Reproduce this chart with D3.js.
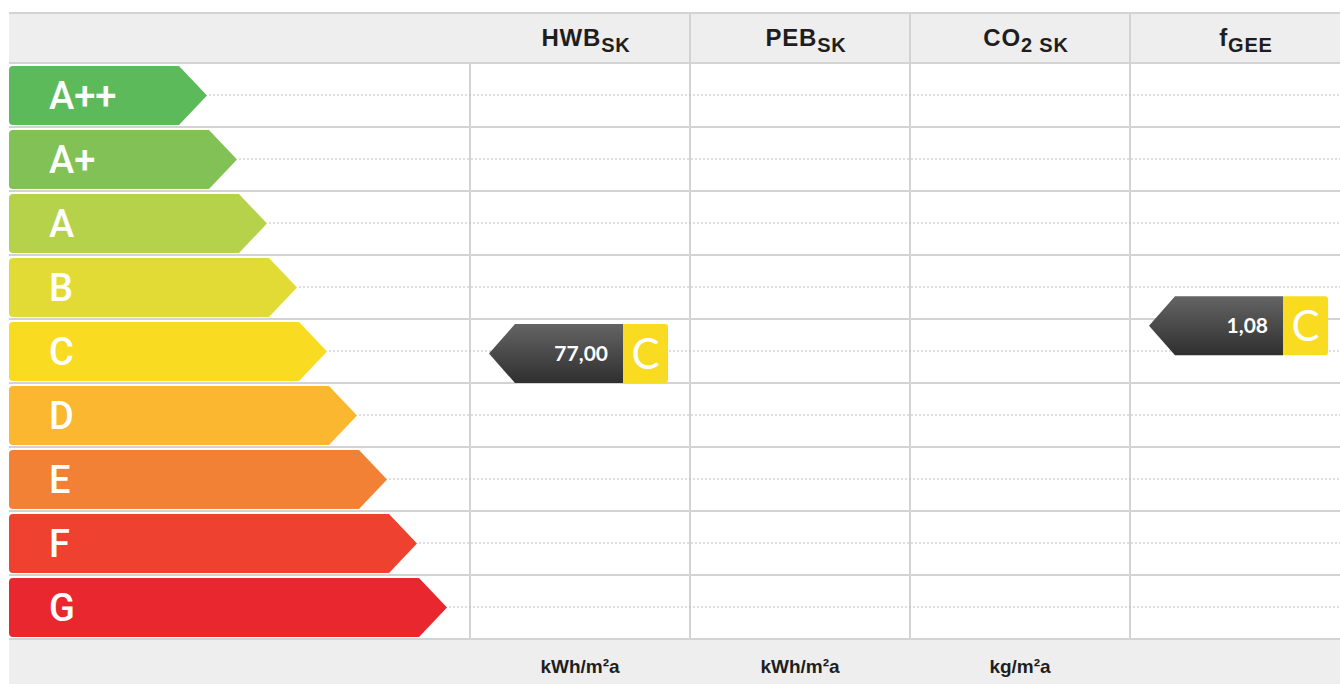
<!DOCTYPE html>
<html>
<head>
<meta charset="utf-8">
<script src="https://cdn.jsdelivr.net/npm/d3@7"></script>
<style>
  html, body { margin: 0; padding: 0; background: #fff; }
  svg { display: block; }
</style>
</head>
<body>
<svg id="chart" width="1340" height="684"></svg>
<script>
// ---- data ----
const classes = ["A++", "A+", "A", "B", "C", "D", "E", "F", "G"];
const classColors = ["#5dba5b", "#82c155", "#b6d24a", "#e2db35", "#f9db22", "#fbb72f", "#f38135", "#ef4130", "#e8272e"];
const columns = ["HWB", "PEB", "CO2", "fGEE"];
const headerMain = ["HWB", "PEB", "CO", "f"];
const headerSub = ["SK", "SK", "2 SK", "GEE"];
const units = ["kWh/m²a", "kWh/m²a", "kg/m²a", ""];
const indicatorValues = [77.00, null, null, 1.08];
const indicatorLabels = ["77,00", null, null, "1,08"];
const indicatorClasses = ["C", null, null, "C"];
const hwbLimits = [0, 10, 15, 25, 50, 100, 150, 200, 250, 300];
const fgeeLimits = [0.25, 0.55, 0.70, 0.85, 1.00, 1.75, 2.50, 3.25, 4.00, 4.75];
const columnLimits = [hwbLimits, null, null, fgeeLimits];

// ---- layout ----
const W = 1340, H = 684;
const left = 9, gridTop = 63, gridBottom = 639, headTop = 13;
const svg = d3.select("#chart");
const y = d3.scaleBand().domain(classes).range([gridTop, gridBottom]).paddingInner(0).paddingOuter(0);
const x = d3.scaleBand().domain(columns).range([470, 1350]);
const tipX = d3.scaleLinear().domain([0, classes.length - 1]).range([207, 447]);
const boundaries = classes.map(c => y(c)).concat([gridBottom]);
const lineColor = "#d3d3d3";
const colorOf = c => classColors[classes.indexOf(c)];

// header and footer bands
svg.append("rect").attr("x", left).attr("y", headTop).attr("width", W - left).attr("height", gridTop - headTop).attr("fill", "#eeeeee");
svg.append("rect").attr("x", left).attr("y", gridBottom).attr("width", W - left).attr("height", H - gridBottom).attr("fill", "#eeeeee");
svg.append("line").attr("x1", left).attr("x2", W).attr("y1", headTop).attr("y2", headTop).attr("stroke", lineColor).attr("stroke-width", 2);

// horizontal row lines
svg.append("g").selectAll("line").data(boundaries).join("line")
  .attr("x1", left).attr("x2", W).attr("y1", d => d).attr("y2", d => d)
  .attr("stroke", lineColor).attr("stroke-width", 2);

// vertical column lines
svg.append("g").selectAll("line").data(columns).join("line")
  .attr("x1", d => x(d)).attr("x2", d => x(d))
  .attr("y1", (d, i) => i === 0 ? gridTop : headTop).attr("y2", gridBottom)
  .attr("stroke", lineColor).attr("stroke-width", 2);

// dotted guide lines
svg.append("g").selectAll("line").data(classes).join("line")
  .attr("x1", (d, i) => tipX(i) + 2).attr("x2", W)
  .attr("y1", d => y(d) + y.bandwidth() / 2).attr("y2", d => y(d) + y.bandwidth() / 2)
  .attr("stroke", "#bdbdbd").attr("stroke-width", 1).attr("stroke-dasharray", "2,2");

// class bars
const inset = 3, depth = 28, r = 4;
const bars = svg.append("g").selectAll("g").data(classes).join("g");
bars.append("path")
  .attr("d", (d, i) => {
    const t = y(d) + inset, b = y(d) + y.bandwidth() - inset + 1, cy = (t + b) / 2;
    const tip = tipX(i), se = tip - depth;
    return `M${left + r},${t} L${se},${t} L${tip},${cy} L${se},${b} L${left + r},${b} Q${left},${b} ${left},${b - r} L${left},${t + r} Q${left},${t} ${left + r},${t} Z`;
  })
  .attr("fill", (d, i) => classColors[i]);
bars.append("text")
  .attr("x", 49).attr("y", d => y(d) + y.bandwidth() / 2 + 14)
  .attr("fill", "#fff").attr("font-family", "Roboto, Arial, sans-serif")
  .attr("font-weight", 500).attr("font-size", 38)
  .text(d => d);

// headers
const heads = svg.append("g").selectAll("text").data(columns).join("text")
  .attr("x", d => x(d) + x.bandwidth() / 2 + 6).attr("y", 46)
  .attr("text-anchor", "middle").attr("fill", "#1e1e1e")
  .attr("font-family", "Liberation Sans, Arial, sans-serif").attr("font-weight", "bold").attr("font-size", 24)
  .attr("letter-spacing", 0.8);
heads.append("tspan").text((d, i) => headerMain[i]);
heads.append("tspan").attr("dy", 6).attr("font-size", 20).text((d, i) => headerSub[i]);

// units
svg.append("g").selectAll("text").data(columns).join("text")
  .attr("x", d => x(d) + x.bandwidth() / 2).attr("y", 673)
  .attr("text-anchor", "middle").attr("fill", "#1e1e1e")
  .attr("font-family", "Liberation Sans, Arial, sans-serif").attr("font-weight", "bold").attr("font-size", 19)
  .text((d, i) => units[i]);

// gradient for indicator
const defs = svg.append("defs");
const grad = defs.append("linearGradient").attr("id", "ind").attr("x1", 0).attr("x2", 0).attr("y1", 0).attr("y2", 1);
grad.append("stop").attr("offset", "0%").attr("stop-color", "#646464");
grad.append("stop").attr("offset", "100%").attr("stop-color", "#2f2f2f");

// indicators
const indData = columns.map((c, i) => ({ col: c, v: indicatorValues[i], label: indicatorLabels[i], cls: indicatorClasses[i], lim: columnLimits[i] }))
  .filter(d => d.v != null);
const ind = svg.append("g").selectAll("g").data(indData).join("g");
const hh = 29.5;
ind.each(function (d) {
  const g = d3.select(this);
  const vy = d3.scaleLinear().domain(d.lim).range(boundaries);
  const cy = vy(d.v);
  const x0 = x(d.col);
  const t = cy - hh, b = cy + hh;
  g.append("path")
    .attr("d", `M${x0 + 19},${cy} L${x0 + 45},${t} L${x0 + 153},${t} L${x0 + 153},${b} L${x0 + 45},${b} Z`)
    .attr("fill", "url(#ind)");
  const rr = 3, ys = x0 + 153, ye = x0 + 198;
  g.append("path")
    .attr("d", `M${ys},${t} L${ye - rr},${t} Q${ye},${t} ${ye},${t + rr} L${ye},${b - rr} Q${ye},${b} ${ye - rr},${b} L${ys},${b} Z`)
    .attr("fill", colorOf(d.cls));
  g.append("text").attr("x", x0 + 138).attr("y", cy + 7.5)
    .attr("text-anchor", "end").attr("fill", "#fff")
    .attr("font-family", "Lato, sans-serif").attr("font-weight", 700).attr("font-size", 21)
    .text(d.label);
  g.append("text").attr("x", (ys + ye) / 2).attr("y", cy + 15)
    .attr("text-anchor", "middle").attr("fill", "#fff")
    .attr("font-family", "Lato, sans-serif").attr("font-weight", 400).attr("font-size", 42)
    .text(d.cls);
});
</script>
</body>
</html>
